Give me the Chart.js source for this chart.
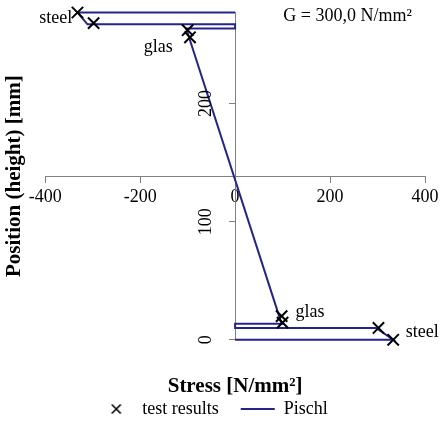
<!DOCTYPE html>
<html>
<head>
<meta charset="utf-8">
<script src="https://cdn.jsdelivr.net/npm/chart.js@4.4.0/dist/chart.umd.min.js"></script>
<style>
html, body { margin: 0; padding: 0; background: #fff; }
#wrap { width: 443px; height: 425px; }
</style>
</head>
<body>
<div id="wrap"><canvas id="chart"></canvas></div>
<script>
// test results: stress [N/mm²] and position [mm]
const testStress = [-332, -298, -100, -95, 98, 100, 302, 333];
const testHeight = [277, 268, 262, 256, 20, 14.5, 10, 0];

// Pischl stress profile, bottom to top
const pischlStress = [0, 333, 297, 0, 0, 98, -103, 0, 0, -311, -332, 0];
const pischlHeight = [0, 0, 10, 10, 13.5, 13.5, 263.5, 263.5, 267, 267, 277, 277];

const xTicks = [-400, -200, 0, 200, 400];
const yTicks = [0, 100, 200];

const noteTexts = ['steel', 'glas', 'glas', 'steel', 'G = 300,0 N/mm²'];
const noteStress = [-378, -162, 158, 394, 237];
const noteHeight = [272, 248, 23, 6, 273.5];

const navy = '#24248c';
const axisGrey = '#808080';
const serif = "'Liberation Serif', 'Times New Roman', serif";

Chart.defaults.font.family = serif;
Chart.defaults.font.size = 18;
Chart.defaults.color = '#000';

// X symbol for the legend
function crossImage() {
    const c = document.createElement('canvas');
    c.width = 12; c.height = 12;
    const g = c.getContext('2d');
    g.strokeStyle = '#000';
    g.lineWidth = 1.6;
    g.beginPath();
    g.moveTo(1.5, 1.5); g.lineTo(10.5, 10.5);
    g.moveTo(10.5, 1.5); g.lineTo(1.5, 10.5);
    g.stroke();
    return c;
}
const legendCross = crossImage();

// labels inside the plot + rotated y tick labels next to the middle axis
const notesPlugin = {
    id: 'notes',
    afterDatasetsDraw(chart) {
        const ctx = chart.ctx;
        const xs = chart.scales.x, ys = chart.scales.y;
        ctx.save();
        ctx.font = '18px ' + serif;
        ctx.fillStyle = '#000';
        ctx.textAlign = 'center';
        ctx.textBaseline = 'middle';
        noteTexts.forEach((t, i) => {
            ctx.fillText(t, xs.getPixelForValue(noteStress[i]), ys.getPixelForValue(noteHeight[i]));
        });
        const ax = xs.getPixelForValue(0) - 29;
        yTicks.forEach(v => {
            ctx.save();
            ctx.translate(ax, ys.getPixelForValue(v));
            ctx.rotate(-Math.PI / 2);
            ctx.fillText(String(v), 0, 0);
            ctx.restore();
        });
        ctx.restore();
    }
};

new Chart(document.getElementById('chart'), {
    type: 'scatter',
    data: {
        datasets: [{
            label: 'test results',
            data: testStress.map((v, i) => ({x: v, y: testHeight[i]})),
            pointStyle: 'crossRot',
            pointRadius: 8,
            pointBorderColor: '#000',
            pointBorderWidth: 2,
            borderColor: '#000',
            backgroundColor: '#000',
            clip: false,
            order: 0
        }, {
            label: 'Pischl',
            data: pischlStress.map((v, i) => ({x: v, y: pischlHeight[i]})),
            showLine: true,
            borderColor: navy,
            backgroundColor: navy,
            borderWidth: 2,
            pointRadius: 0,
            pointStyle: 'line',
            clip: false,
            order: 1
        }]
    },
    options: {
        responsive: true,
        maintainAspectRatio: false,
        animation: false,
        layout: { padding: { left: 2, right: 18, top: 12.5, bottom: -3 } },
        scales: {
            x: {
                type: 'linear',
                position: { y: 138 },
                min: -400, max: 400,
                afterBuildTicks: s => { s.ticks = xTicks.map(v => ({value: v})); },
                grid: { display: true, drawOnChartArea: false, drawTicks: true, tickLength: 6, color: axisGrey },
                border: { display: true, color: axisGrey, width: 1 },
                ticks: { padding: 4, maxRotation: 0, font: { size: 18 } }
            },
            y: {
                type: 'linear',
                position: { x: 0 },
                min: 0, max: 277,
                afterBuildTicks: s => { s.ticks = yTicks.map(v => ({value: v})); },
                grid: { display: true, drawOnChartArea: false, drawTicks: true, tickLength: 6, color: axisGrey },
                border: { display: true, color: axisGrey, width: 1 },
                ticks: { display: false }
            }
        },
        plugins: {
            title: {
                display: true,
                text: 'Position (height) [mm]',
                position: 'left',
                fullSize: false,
                font: { size: 21, weight: 'bold' },
                padding: { top: 0, bottom: 18 }
            },
            subtitle: {
                display: true,
                text: 'Stress [N/mm²]',
                position: 'bottom',
                fullSize: false,
                weight: 500,
                font: { size: 21, weight: 'bold' },
                padding: { top: 34, bottom: -21 }
            },
            legend: {
                position: 'bottom',
                labels: {
                    usePointStyle: true,
                    pointStyleWidth: 34,
                    padding: 22,
                    font: { size: 18 },
                    generateLabels: chart => {
                        const items = Chart.defaults.plugins.legend.labels.generateLabels(chart);
                        items[0].pointStyle = legendCross;
                        items[1].pointStyle = 'line';
                        items[1].strokeStyle = navy;
                        items[1].lineWidth = 2;
                        return items;
                    }
                }
            },
            tooltip: { enabled: false }
        }
    },
    plugins: [notesPlugin]
});
</script>
</body>
</html>
